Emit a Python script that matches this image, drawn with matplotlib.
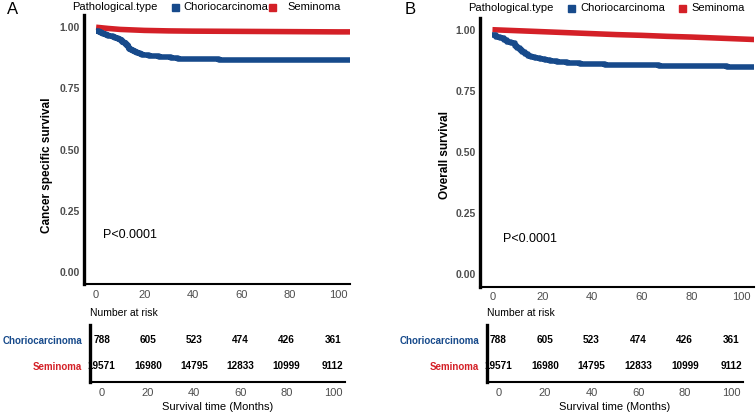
import numpy as np
import matplotlib
matplotlib.use("Agg")
import matplotlib.pyplot as plt

plt.rcParams['font.family'] = ['Liberation Sans', 'DejaVu Sans']

# Data
groups = ['Choriocarcinoma', 'Seminoma']
colors = ['#174A8B', '#D42027']

# Panel A: cancer specific survival
a_chorio_t = [0, 1, 2, 3, 4, 5, 6, 7, 8, 9, 10, 10.8, 11.5, 12.2, 13, 13.7, 14.5, 15.3, 16, 17, 18, 19, 20.5, 22,
              24, 26, 28, 31, 34, 38, 42, 46, 51, 56, 62, 70, 110]
a_chorio_s = [0.985, 0.981, 0.977, 0.974, 0.970, 0.966, 0.963, 0.960, 0.956, 0.952, 0.947, 0.941, 0.934, 0.927,
              0.920, 0.913, 0.906, 0.901, 0.897, 0.893, 0.890, 0.888, 0.886, 0.884, 0.881, 0.879, 0.877, 0.874,
              0.872, 0.871, 0.870, 0.869, 0.867, 0.866, 0.865, 0.864, 0.864]
a_sem_t = [0, 5, 10, 20, 30, 40, 60, 80, 100, 110]
a_sem_s = [1.0, 0.995, 0.991, 0.987, 0.985, 0.984, 0.983, 0.982, 0.981, 0.981]

# Panel B: overall survival
b_chorio_t = [0, 1.5, 3, 4.5, 6, 7.5, 9, 10, 11, 12, 13, 14.2, 15.4, 17, 19, 21, 23, 26, 30, 35, 40, 45, 50, 55,
              60, 67, 75, 81, 87, 94, 100, 110]
b_chorio_s = [0.978, 0.972, 0.965, 0.958, 0.951, 0.944, 0.935, 0.926, 0.917, 0.909, 0.900, 0.894, 0.889, 0.884,
              0.880, 0.876, 0.872, 0.869, 0.865, 0.861, 0.858, 0.857, 0.856, 0.855, 0.855, 0.853, 0.852, 0.851,
              0.851, 0.849, 0.847, 0.844]
b_sem_t = [0, 10, 20, 30, 40, 50, 60, 70, 80, 90, 100, 110]
b_sem_s = [1.0, 0.996, 0.992, 0.988, 0.984, 0.980, 0.977, 0.973, 0.970, 0.966, 0.962, 0.958]

risk_times = [0, 20, 40, 60, 80, 100]
risk_chorio = [788, 605, 523, 474, 426, 361]
risk_sem = [19571, 16980, 14795, 12833, 10999, 9112]

y_ticks = [0.00, 0.25, 0.50, 0.75, 1.00]
y_ticklabels = ['0.00', '0.25', '0.50', '0.75', '1.00']

W, H = 756, 413
fig = plt.figure(figsize=(W / 100, H / 100), dpi=100)

NARROW = ['Liberation Sans Narrow', 'Liberation Sans']


def box(x0, y_top, x1, y_bot):
    # pixel box -> figure fraction
    return [x0 / W, 1 - y_bot / H, (x1 - x0) / W, (y_bot - y_top) / H]


def style_axes(ax):
    for s in ['top', 'right']:
        ax.spines[s].set_visible(False)
    ax.spines['left'].set_linewidth(2.4)
    ax.spines['bottom'].set_linewidth(1.5)
    ax.tick_params(length=0, pad=3, labelcolor='#4D4D4D')
    ax.tick_params(axis='x', labelsize=8, pad=4)
    ax.tick_params(axis='y', labelsize=7.5)
    for lab in ax.get_yticklabels():
        lab.set_fontweight('bold')


def panel(main_box, table_box, curves, ylabel, ylab_xy, letter, letter_xy, leg_x, pval_xy):
    ax = fig.add_axes(box(*main_box))
    (ct, cs), (st, ss) = curves
    ax.plot(st, ss, color=colors[1], lw=4, solid_capstyle='butt')
    ax.plot(ct, cs, drawstyle='steps-post', color=colors[0], lw=4, solid_capstyle='butt')
    ax.set_xlim(-5, 105)
    ax.set_ylim(-0.05, 1.05)
    ax.set_xticks(risk_times)
    ax.set_yticks(y_ticks)
    ax.set_yticklabels(y_ticklabels)
    style_axes(ax)
    ax.text(pval_xy[0], pval_xy[1], 'P<0.0001', fontsize=9, va='center', ha='left')

    fig.text(ylab_xy[0] / W, 1 - ylab_xy[1] / H, ylabel, rotation=90, fontsize=8.5,
             fontweight='bold', ha='center', va='center')
    fig.text(letter_xy[0] / W, 1 - letter_xy[1] / H, letter, fontsize=12,
             ha='left', va='center')

    # legend on top
    lx, ly = leg_x
    fig.text(lx[0] / W, 1 - ly / H, 'Pathological.type', fontsize=8, va='center')
    for g, c, xs, xt in zip(groups, colors, lx[1:3], lx[3:5]):
        fig.patches.append(plt.Rectangle((xs / W, 1 - (ly + 3.5) / H), 7 / W, 7 / H,
                                         transform=fig.transFigure, color=c))
        fig.text(xt / W, 1 - ly / H, g, fontsize=8, va='center')

    # number at risk table
    fig.text(table_box[0] / W, 1 - 312.7 / H, 'Number at risk', fontsize=7.5, va='center')
    tb = fig.add_axes(box(*table_box))
    tb.set_xlim(-5, 105)
    tb.set_ylim(0.4, 2.55)
    tb.set_xticks(risk_times)
    tb.set_yticks([2, 1])
    tb.set_yticklabels(groups)
    style_axes(tb)
    tb.tick_params(axis='y', pad=5.5, labelsize=7)
    for lab, c in zip(tb.get_yticklabels(), colors):
        lab.set_color(c)
        lab.set_fontweight('bold')
    for t, n1, n2 in zip(risk_times, risk_chorio, risk_sem):
        tb.text(t, 2, str(n1), ha='center', va='center', fontsize=7.2, fontweight='bold', family=NARROW)
        tb.text(t, 1, str(n2), ha='center', va='center', fontsize=7.2, fontweight='bold', family=NARROW)
    tb.set_xlabel('Survival time (Months)', fontsize=8, labelpad=3)
    return ax


panel((84, 15, 350, 284), (90, 325, 344.5, 382),
      [(a_chorio_t, a_chorio_s), (a_sem_t, a_sem_s)],
      'Cancer specific survival', (47, 165), 'A', (7, 10),
      ((72, 172, 269, 183, 287), 7), (3, 0.15))

panel((480, 17.5, 754, 286.5), (486.6, 325, 743, 382),
      [(b_chorio_t, b_chorio_s), (b_sem_t, b_sem_s)],
      'Overall survival', (445, 155), 'B', (405, 9),
      ((468, 568, 679, 580, 691), 8), (4.4, 0.145))

fig.savefig('out.png', dpi=100)
